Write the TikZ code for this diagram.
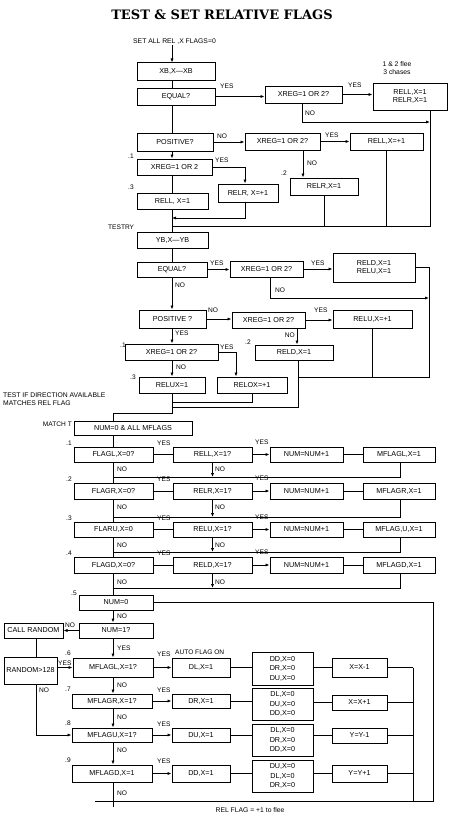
\documentclass[tikz,border=0pt]{standalone}
\usepackage{fontspec}
\setmainfont{Liberation Sans}
\newfontfamily\titlefont{DejaVu Serif}
\usetikzlibrary{arrows.meta}
\newcommand\mybox[7][]{\node[bx,#1,minimum width={(#5-#3)*1pt},minimum height={(#6-#4)*1pt}] (#2) at ({(#3+#5)/2},{(#4+#6)/2}) {#7};}
\begin{document}
\begin{tikzpicture}[x=1pt,y=-1pt,
  bx/.style={draw,line width=1pt,inner sep=0pt,align=center,font=\fontsize{7.2}{8.5}\selectfont},
  tri/.style={font=\fontsize{7.2}{9.5}\selectfont},
  ln/.style={line width=0.8pt},
  arr/.style={ln,-{Latex[length=4pt,width=3.2pt]}},
  lbl/.style={inner sep=0pt,font=\fontsize{6.6}{7}\selectfont,anchor=west},
  txt/.style={inner sep=0pt,font=\fontsize{6.8}{8}\selectfont}]
\useasboundingbox (0,0) rectangle (456,816);
\fill[white] (0,0) rectangle (456,816);
% ---------- title
\node[inner sep=0pt,font=\titlefont\bfseries\fontsize{13}{14}\selectfont] (title) at (222,15) {TEST \& SET RELATIVE FLAGS};
\node[txt,anchor=west] (setall) at (133,42) {SET ALL REL ,X FLAGS=0};
\coordinate (mc) at (172,0);
\coordinate (mk) at (113,0);
% ---------- X section
\mybox{xb}{137}{63}{215}{80}{XB,X—XB}
\mybox{eqa}{137}{88}{215}{105}{EQUAL?}
\mybox{xra}{265}{86}{342}{103}{XREG=1 OR 2?}
\mybox{rlr}{373}{83}{447}{110}{RELL,X=1\\RELR,X=1}
\node[txt,align=center] (flee) at (397,68) {1 \& 2 flee\\3 chases};
\mybox{posa}{137}{133}{213}{151}{POSITIVE?}
\mybox{xrb}{245}{133}{320}{150}{XREG=1 OR 2?}
\mybox{rlp}{350}{133}{423}{150}{RELL,X=+1}
\mybox{rrb}{290}{178}{358}{195}{RELR,X=1}
\mybox{xrc}{137}{159}{212}{175}{XREG=1 OR 2}
\mybox{rrp}{218}{184}{278}{202}{RELR, X=+1}
\mybox{rlc}{137}{193}{208}{209}{RELL, X=1}
\coordinate (ra) at (430,0);
\coordinate (ca) at (302,122);
\coordinate (jb) at (430,226);
\coordinate (cb) at (303,0);
\coordinate (cc) at (245,0);
\coordinate (cd) at (245,218);
\draw[arr] (setall.south -| mc) -- (xb.north -| mc);
\draw[ln] (xb.south -| mc) -- (eqa.north -| mc);
\draw[arr] (eqa.east) -- (eqa.east -| xra.west);
\draw[arr] (xra.east) -- (xra.east -| rlr.west);
\draw[arr] (xra.south -| ca) -- (ca) -- (ca -| ra);
\draw[ln] (rlr.south -| jb) -- (jb) -- (jb -| mc);
\draw[ln] (rrb.south) -- (rrb.south |- jb);
\draw[ln] (rlp.south) -- (rlp.south |- jb);
\draw[ln] (eqa.south -| mc) -- (posa.north -| mc);
\draw[arr] (posa.east) -- (posa.east -| xrb.west);
\draw[arr] (xrb.east) -- (xrb.east -| rlp.west);
\draw[arr] (xrb.south -| cb) -- (rrb.north -| cb);
\draw[arr] (posa.south -| mc) -- (xrc.north -| mc);
\draw[arr] (xrc.east) -- (xrc.east -| cc) -- (rrp.north -| cc);
\draw[ln] (xrc.south -| mc) -- (rlc.north -| mc);
\draw[arr] (rrp.south -| cd) -- (cd) -- (cd -| mc);
\node[lbl] at (220,86) {YES};
\node[lbl] at (348,85) {YES};
\node[lbl] at (305,113) {NO};
\node[lbl] at (217,136) {NO};
\node[lbl] at (325,135) {YES};
\node[lbl] at (307,163) {NO};
\node[lbl] at (281,173) {.2};
\node[lbl] at (215,160) {YES};
\node[lbl] at (128,156) {.1};
\node[lbl] at (128,187) {.3};
\node[lbl] at (108,227) {TESTRY};
% ---------- Y section
\mybox{yb}{137}{232}{208}{248}{YB,X—YB}
\mybox{eqb}{137}{262}{207}{277}{EQUAL?}
\mybox{xrd}{230}{261}{303}{277}{XREG=1 OR 2?}
\mybox{rdu}{333}{253}{415}{282}{RELD,X=1\\RELU,X=1}
\mybox{posb}{139}{310}{206}{328}{POSITIVE ?}
\mybox{xre}{232}{312}{305}{328}{XREG=1 OR 2?}
\mybox{rup}{333}{310}{412}{328}{RELU,X=+1}
\mybox{rdd}{255}{345}{333}{360}{RELD,X=1}
\mybox{xrf}{125}{344}{218}{360}{XREG=1 OR 2?}
\mybox{rux}{139}{377}{205}{393}{RELUX=1}
\mybox{rox}{217}{377}{287}{393}{RELOX=+1}
\coordinate (rb) at (429,0);
\coordinate (da) at (429,377);
\coordinate (db) at (270,298);
\coordinate (dc) at (297,0);
\coordinate (dd) at (298,407);
\coordinate (de) at (236,0);
\coordinate (df) at (252,402);
\coordinate (dg) at (172,413);
\draw[ln] (rlc.south -| mc) -- (yb.north -| mc);
\draw[ln] (yb.south -| mc) -- (eqb.north -| mc);
\draw[arr] (eqb.east) -- (eqb.east -| xrd.west);
\draw[arr] (xrd.east) -- (xrd.east -| rdu.west);
\draw[ln] (rdu.east) -- (rdu.east -| rb) -- (da) -- (da -| dd);
\draw[arr] (xrd.south -| db) -- (db) -- (db -| rb);
\draw[arr] (eqb.south -| mc) -- (posb.north -| mc);
\draw[arr] (posb.east) -- (posb.east -| xre.west);
\draw[arr] (xre.east) -- (xre.east -| rup.west);
\draw[arr] (xre.south -| dc) -- (rdd.north -| dc);
\draw[ln] (rup.south) -- (rup.south |- da);
\draw[ln] (rdd.south -| dd) -- (dd) -- (dd -| mc);
\draw[arr] (posb.south -| mc) -- (xrf.north -| mc);
\draw[arr] (xrf.east) -- (xrf.east -| de) -- (rox.north -| de);
\draw[arr] (xrf.south -| mc) -- (rux.north -| mc);
\draw[ln] (rox.south -| df) -- (df) -- (df -| mc);
\node[lbl] at (210,263) {YES};
\node[lbl] at (311,263) {YES};
\node[lbl] at (275,290) {NO};
\node[lbl] at (175,285) {NO};
\node[lbl] at (208,310) {NO};
\node[lbl] at (314,310) {YES};
\node[lbl,anchor=east] at (295,335) {NO};
\node[lbl] at (245,342) {.2};
\node[lbl] at (175,333) {YES};
\node[lbl] at (120,345) {.1};
\node[lbl] at (220,347) {YES};
\node[lbl] at (176,367) {NO};
\node[lbl] at (130,377) {.3};
\node[txt,anchor=west,align=left] at (3,399) {TEST IF DIRECTION AVAILABLE\\MATCHES REL FLAG};
% ---------- match section
\mybox{nma}{74}{421}{192}{435}{NUM=0 \& ALL MFLAGS}
\draw[ln] (rux.south -| mc) -- (dg) -- (dg -| mk) -- (nma.north -| mk);
\node[lbl,anchor=east] at (72,424) {MATCH T};
\mybox{f1}{74}{447}{153}{462}{FLAGL,X=0?}
\mybox{r1}{173}{447}{252}{462}{RELL,X=1?}
\mybox{n1}{270}{447}{343}{462}{NUM=NUM+1}
\mybox{m1}{363}{447}{435}{462}{MFLAGL,X=1}
\mybox{f2}{74}{483}{153}{499}{FLAGR,X=0?}
\mybox{r2}{173}{483}{252}{499}{RELR,X=1?}
\mybox{n2}{270}{483}{343}{499}{NUM=NUM+1}
\mybox{m2}{363}{483}{435}{499}{MFLAGR,X=1}
\mybox{f3}{74}{522}{153}{537}{FLARU,X=0}
\mybox{r3}{173}{522}{252}{537}{RELU,X=1?}
\mybox{n3}{270}{522}{343}{537}{NUM=NUM+1}
\mybox{m3}{363}{522}{435}{537}{MFLAG,U,X=1}
\mybox{f4}{74}{557}{153}{573}{FLAGD,X=0?}
\mybox{r4}{173}{557}{252}{573}{RELD,X=1?}
\mybox{n4}{270}{557}{343}{573}{NUM=NUM+1}
\mybox{m4}{363}{557}{435}{573}{MFLAGD,X=1}
\coordinate (h1) at (400,477);
\coordinate (h2) at (400,517);
\coordinate (h3) at (400,552);
\coordinate (h4) at (400,588);
\draw[ln] (nma.south -| mk) -- (f1.north -| mk);
\foreach \i/\j in {1/2,2/3,3/4}{\draw[ln] (f\i.south -| mk) -- (f\j.north -| mk);}
\foreach \i in {1,2,3,4}{
  \draw[ln] (f\i.east) -- (r\i.west);
  \draw[arr] (r\i.east) -- (n\i.west);
  \draw[ln] (n\i.east) -- (m\i.west);
  \draw[arr] (r\i.south) -- (r\i.south |- h\i);
  \draw[ln] (m\i.south -| h\i) -- (h\i) -- (h\i -| mk);
}
\foreach \y/\n [count=\k] in {447/469,483/507,522/545,557/582}{
  \node[lbl] at (66,\y-4) {.\k};
  \node[lbl] at (157,\y-4) {YES};
  \node[lbl] at (255,\y-5) {YES};
  \node[lbl] at (117,\n) {NO};
  \node[lbl] at (215,\n) {NO};
}
% ---------- move section
\mybox{nz}{79}{595}{153}{610}{NUM=0}
\mybox{no}{79}{623}{153}{638}{NUM=1?}
\mybox{cr}{4}{623}{63}{638}{CALL RANDOM}
\mybox{rn}{4}{657}{57}{684}{RANDOM>128}
\mybox{g6}{73}{658}{153}{677}{MFLAGL,X=1?}
\mybox{g7}{72}{694}{152}{708}{MFLAGR,X=1?}
\mybox{g8}{72}{728}{152}{742}{MFLAGU,X=1?}
\mybox{g9}{72}{765}{152}{782}{MFLAGD,X=1}
\mybox{d6}{172}{658}{230}{677}{DL,X=1}
\mybox{d7}{172}{694}{230}{708}{DR,X=1}
\mybox{d8}{172}{728}{230}{742}{DU,X=1}
\mybox{d9}{172}{765}{230}{782}{DD,X=1}
\mybox[tri]{z6}{252}{652}{313}{685}{DD,X=0\\DR,X=0\\DU,X=0}
\mybox[tri]{z7}{252}{688}{313}{720}{DL,X=0\\DU,X=0\\DD,X=0}
\mybox[tri]{z8}{252}{724}{313}{756}{DL,X=0\\DR,X=0\\DD,X=0}
\mybox[tri]{z9}{252}{760}{313}{792}{DU,X=0\\DL,X=0\\DR,X=0}
\mybox{w6}{332}{658}{387}{677}{X=X-1}
\mybox{w7}{332}{695}{387}{710}{X=X+1}
\mybox{w8}{332}{728}{387}{743}{Y=Y-1}
\mybox{w9}{332}{765}{387}{782}{Y=Y+1}
\coordinate (ob) at (433,801);
\coordinate (obl) at (95,801);
\coordinate (rk) at (36,735);
\coordinate (iv) at (413,801);
\coordinate (bot) at (113,807);
\draw[ln] (f4.south -| mk) -- (nz.north -| mk);
\draw[ln] (nz.east) -- (nz.east -| ob) -- (ob) -- (obl);
\draw[arr] (nz.south -| mk) -- (no.north -| mk);
\draw[arr] (no.west) -- (cr.east);
\draw[ln] (cr.south -| rk) -- (rn.north -| rk);
\draw[arr] (rn.south -| rk) -- (rk) -- (rk -| g8.west);
\draw[arr] (rn.east |- g6.west) -- (g6.west);
\draw[arr] (no.south -| mk) -- (g6.north -| mk);
\draw[arr] (g6.south -| mk) -- (g7.north -| mk);
\draw[arr] (g7.south -| mk) -- (g8.north -| mk);
\draw[arr] (g8.south -| mk) -- (g9.north -| mk);
\draw[ln] (g9.south -| mk) -- (bot);
\foreach \i in {6,7,8,9}{
  \draw[arr] (g\i.east) -- (g\i.east -| d\i.west);
  \draw[ln] (d\i.east) -- (d\i.east -| z\i.west);
  \draw[ln] (z\i.east |- w\i.west) -- (w\i.west);
  \draw[ln] (w\i.east) -- (w\i.east -| iv);
}
\draw[ln] (w6.east -| iv) -- (iv);
\node[lbl] at (71,593) {.5};
\node[lbl] at (117,616) {NO};
\node[lbl] at (65,625) {NO};
\node[lbl] at (117,648) {YES};
\node[lbl] at (58,663) {YES};
\node[lbl] at (39,690) {NO};
\node[lbl] at (175,652) {AUTO FLAG ON};
\foreach \y/\n [count=\k from 6] in {654/685,690/717,724/750,761/793}{
  \node[lbl] at (65,\y-1) {.\k};
  \node[lbl] at (157,\y) {YES};
  \node[lbl] at (117,\n) {NO};
}
\node[txt] at (250,810) {REL FLAG = +1 to flee};
\end{tikzpicture}
\end{document}
